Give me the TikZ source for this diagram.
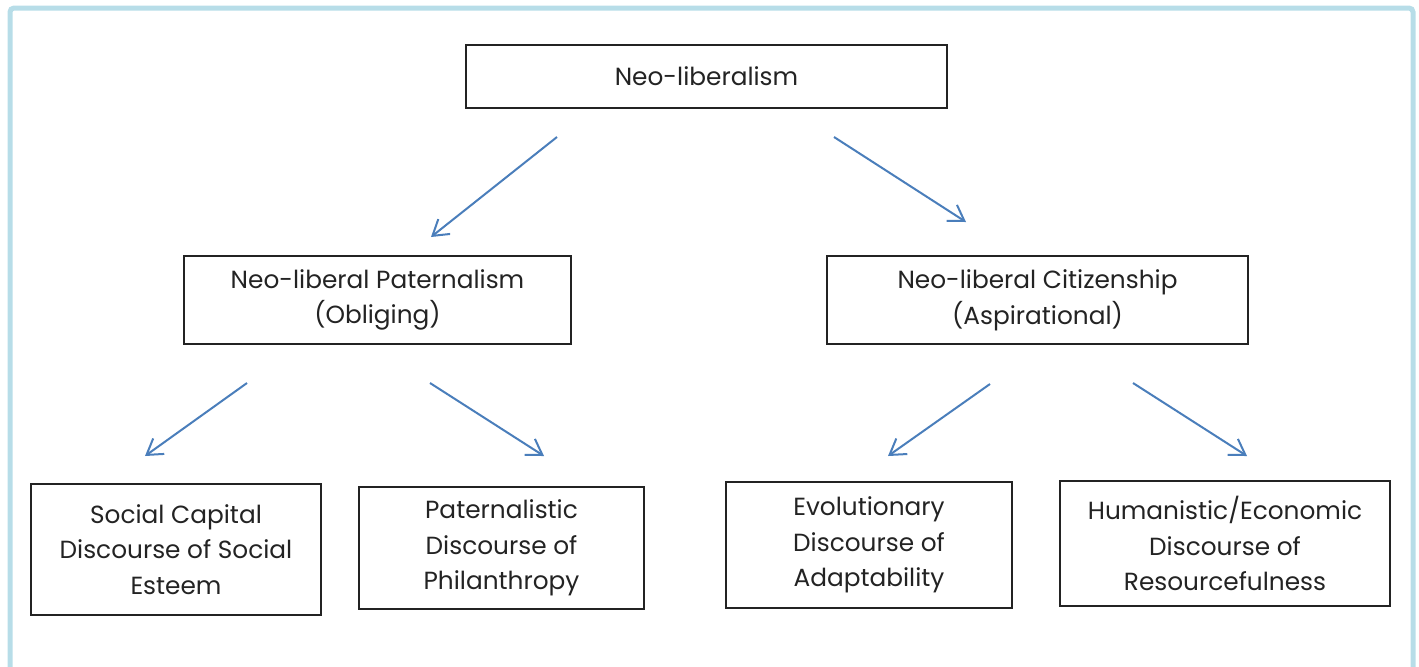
\documentclass[tikz,border=0pt]{standalone}
\usepackage{fontspec}
\setmainfont{Poppins}
\usepackage{xcolor}
\definecolor{framecyan}{RGB}{183, 221, 232}
\definecolor{arrowblue}{RGB}{74, 126, 187}
\definecolor{boxgrey}{RGB}{35, 35, 35}
\usetikzlibrary{arrows.meta}
\tikzstyle{concept} = [shape=rectangle, draw=boxgrey, line width=0.8pt, align=center, inner sep=0pt, text=boxgrey, font=\fontsize{12.4}{17.8}\selectfont]
\tikzstyle{link} = [draw=arrowblue, line width=1pt, -{Straight Barb[length=7.5pt, width=9.5pt, line width=1pt]}]

\begin{document}
\begin{tikzpicture}[x=0.5pt, y=-0.5pt]
  \useasboundingbox (0,0) rectangle (1419,666);
  % outer frame
  \draw[framecyan, line width=2.5pt, rounded corners=2pt] (10,8) rectangle (1413,720);

  % boxes
  \node[concept, minimum width=240.5pt, minimum height=31.5pt] (root) at (706.5,76.5) {Neo-liberalism};
  \node[concept, minimum width=193.5pt, minimum height=44pt] (pat) at (377.5,300) {Neo-liberal Paternalism \\ (Obliging)};
  \node[concept, minimum width=210.5pt, minimum height=44pt] (cit) at (1037.5,300) {Neo-liberal Citizenship \\ (Aspirational)};
  \node[concept, minimum width=145pt, minimum height=65.5pt] (social) at (176,549.5) {Social Capital \\ Discourse of Social \\ Esteem};
  \node[concept, minimum width=142.5pt, minimum height=61pt] (phil) at (501.5,548) {Paternalistic \\ Discourse of \\ Philanthropy};
  \node[concept, minimum width=143pt, minimum height=63pt] (evo) at (869,545) {Evolutionary \\ Discourse of \\ Adaptability};
  \node[concept, minimum width=165pt, minimum height=62.5pt] (hum) at (1225,543.5) {Humanistic/Economic \\ Discourse of \\ Resourcefulness};

  % arrow ends
  \coordinate (root-l) at (557,137);
  \coordinate (pat-t) at (431,237);
  \coordinate (root-r) at (834,137);
  \coordinate (cit-t) at (966,222);
  \coordinate (pat-l) at (247,383);
  \coordinate (social-t) at (145,456);
  \coordinate (pat-r) at (430,383);
  \coordinate (phil-t) at (544,456);
  \coordinate (cit-l) at (990,384);
  \coordinate (evo-t) at (888,456);
  \coordinate (cit-r) at (1133,383);
  \coordinate (hum-t) at (1247,456);

  \draw[link] (root-l) -- (pat-t);
  \draw[link] (root-r) -- (cit-t);
  \draw[link] (pat-l) -- (social-t);
  \draw[link] (pat-r) -- (phil-t);
  \draw[link] (cit-l) -- (evo-t);
  \draw[link] (cit-r) -- (hum-t);
\end{tikzpicture}
\end{document}
